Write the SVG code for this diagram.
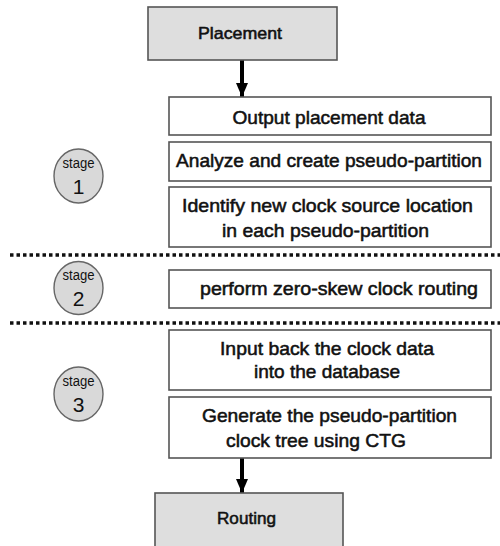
<svg xmlns="http://www.w3.org/2000/svg" width="500" height="546" viewBox="0 0 500 546">
<style>
.gray{fill:#dedede;stroke:#555;stroke-width:1.6}
.box{fill:#fff;stroke:#555;stroke-width:1.6}
.circ{fill:#d9d9d9;stroke:#666;stroke-width:1.4}
text{font-family:"Liberation Sans",Arial,sans-serif;fill:#111;text-anchor:middle}
.t{font-size:19px;stroke:#111;stroke-width:0.55}
.st{font-size:14px}
.num{font-size:21px}
.dot{stroke:#111;stroke-width:3.5;stroke-dasharray:3.5 3}
.arr{stroke:#000;stroke-width:4;fill:none}
</style>
<defs>
<marker id="ah" markerUnits="userSpaceOnUse" markerWidth="14" markerHeight="12" refX="14" refY="6" orient="auto">
<path d="M0,0 L14,6 L0,12 Z" fill="#000"/>
</marker>
</defs>
<rect width="500" height="546" fill="#fff"/>
<g id="connectors">
<line class="arr" x1="242" y1="60" x2="242" y2="97" marker-end="url(#ah)"/>
<line class="arr" x1="242" y1="458" x2="242" y2="493" marker-end="url(#ah)"/>
<line class="dot" x1="10" y1="255" x2="500" y2="255"/>
<line class="dot" x1="10" y1="323" x2="500" y2="323"/>
</g>
<g id="placement">
<rect class="gray" x="148" y="7" width="189" height="53"/>
<text class="t" x="240" y="39" style="font-size:17px" textLength="84" lengthAdjust="spacingAndGlyphs">Placement</text>
</g>
<g id="output">
<rect class="box" x="169" y="97" width="322" height="38"/>
<text class="t" x="329" y="124" textLength="193" lengthAdjust="spacingAndGlyphs">Output placement data</text>
</g>
<g id="analyze">
<rect class="box" x="169" y="142" width="322" height="39"/>
<text class="t" x="329" y="167" textLength="306" lengthAdjust="spacingAndGlyphs">Analyze and create pseudo-partition</text>
</g>
<g id="identify">
<rect class="box" x="169" y="187" width="322" height="60"/>
<text class="t" x="327.5" y="212" textLength="291" lengthAdjust="spacingAndGlyphs">Identify new clock source location</text>
<text class="t" x="325.5" y="237" textLength="207" lengthAdjust="spacingAndGlyphs">in each pseudo-partition</text>
</g>
<g id="perform">
<rect class="box" x="169" y="270" width="322" height="38"/>
<text class="t" x="339" y="295" textLength="278" lengthAdjust="spacingAndGlyphs">perform  zero-skew clock routing</text>
</g>
<g id="input">
<rect class="box" x="169" y="330" width="322" height="60"/>
<text class="t" x="327" y="355" textLength="214" lengthAdjust="spacingAndGlyphs">Input back the clock data</text>
<text class="t" x="327" y="378" textLength="146" lengthAdjust="spacingAndGlyphs">into the database</text>
</g>
<g id="generate">
<rect class="box" x="169" y="397" width="322" height="61"/>
<text class="t" x="329.5" y="422" textLength="255" lengthAdjust="spacingAndGlyphs">Generate the pseudo-partition</text>
<text class="t" x="316" y="447" textLength="180" lengthAdjust="spacingAndGlyphs">clock tree using CTG</text>
</g>
<g id="routing">
<rect class="gray" x="155" y="493" width="188" height="55"/>
<text class="t" x="246.5" y="524" style="font-size:17px" textLength="59" lengthAdjust="spacingAndGlyphs">Routing</text>
</g>
<g id="stage1">
<ellipse class="circ" cx="78.5" cy="176" rx="24.5" ry="27"/>
<text class="st" x="78.5" y="168" textLength="32" lengthAdjust="spacingAndGlyphs">stage</text>
<text class="num" x="78.5" y="194">1</text>
</g>
<g id="stage2">
<ellipse class="circ" cx="78.5" cy="288" rx="24.5" ry="26.5"/>
<text class="st" x="78.5" y="280" textLength="32" lengthAdjust="spacingAndGlyphs">stage</text>
<text class="num" x="78.5" y="306">2</text>
</g>
<g id="stage3">
<ellipse class="circ" cx="78.5" cy="394" rx="24.5" ry="27"/>
<text class="st" x="78.5" y="386" textLength="32" lengthAdjust="spacingAndGlyphs">stage</text>
<text class="num" x="78.5" y="412">3</text>
</g>
</svg>
